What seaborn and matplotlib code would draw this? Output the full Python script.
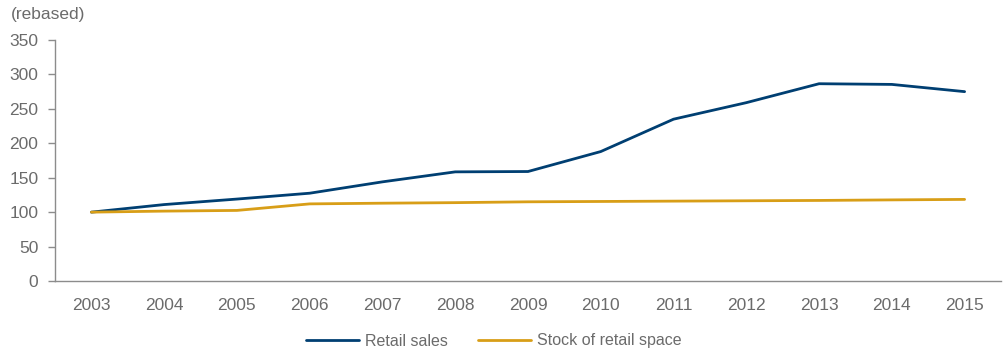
import matplotlib
matplotlib.use("Agg")
import matplotlib.pyplot as plt
import seaborn as sns
import pandas as pd
import numpy as np

years = ["2003", "2004", "2005", "2006", "2007", "2008", "2009",
         "2010", "2011", "2012", "2013", "2014", "2015"]
retail_sales = [100, 111, 119, 127.5, 144, 158.5, 159, 188, 235, 259, 286.5, 285.5, 275]
retail_space = [100, 101.5, 102.5, 112, 113, 113.8, 115, 115.5, 116, 116.5, 117, 117.8, 118.5]
series_names = ["Retail sales", "Stock of retail space"]
colors = ["#003f72", "#d89e17"]
y_ticks = [0, 50, 100, 150, 200, 250, 300, 350]

sns.set_theme(style="white")
plt.rcParams["font.family"] = ["Liberation Sans", "DejaVu Sans"]

grey_text = "#6b6b6b"
grey_axis = "#8c8c8c"

df = pd.DataFrame({
    "year": years * 2,
    "value": retail_sales + retail_space,
    "series": [series_names[0]] * len(years) + [series_names[1]] * len(years),
})

fig = plt.figure(figsize=(10.06, 3.51), dpi=100)
ax = fig.add_axes([55 / 1006, 70 / 351, 946 / 1006, 241 / 351])

sns.lineplot(data=df, x="year", y="value", hue="series", palette=colors,
             linewidth=2.0, ax=ax, legend=False, sort=False)

ax.set_xlim(-0.5, len(years) - 0.5)
ax.set_ylim(0, 350)
ax.set_yticks(y_ticks)
ax.set_yticklabels([str(t) for t in y_ticks])
ax.set_xticks(np.arange(len(years)))
ax.set_xticklabels(years)
ax.set_xticks(np.arange(len(years) + 1) - 0.5, minor=True)
ax.tick_params(axis="x", which="major", length=0, pad=12.5, labelsize=12.5, labelcolor=grey_text)
ax.tick_params(axis="x", which="minor", length=5, width=1, color=grey_axis, direction="out")
ax.tick_params(axis="y", which="major", length=5, width=1, color=grey_axis, direction="out",
               pad=7, labelsize=12.5, labelcolor=grey_text, left=True)
ax.set_xlabel("")
ax.set_ylabel("")

for side in ["top", "right"]:
    ax.spines[side].set_visible(False)
for side in ["left", "bottom"]:
    ax.spines[side].set_color(grey_axis)
    ax.spines[side].set_linewidth(1)

fig.text(11 / 1006, 1 - 15 / 351, "(rebased)", fontsize=12.5, color=grey_text,
         ha="left", va="center")

handles = [plt.Line2D([], [], color=c, linewidth=2.0) for c in colors]
fig.legend(handles, series_names, loc="center", bbox_to_anchor=(494 / 1006, 1 - 341 / 351),
           ncol=2, frameon=False, fontsize=11.5, labelcolor=grey_text,
           handlelength=3.3, handletextpad=0.4, columnspacing=1.9)

fig.savefig("out.png", dpi=100, facecolor="white")
